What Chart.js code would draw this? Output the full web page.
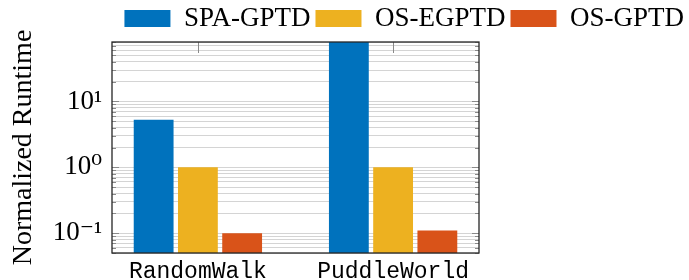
<!DOCTYPE html>
<html>
<head>
<meta charset="utf-8">
<script src="https://cdn.jsdelivr.net/npm/chart.js@4/dist/chart.umd.min.js"></script>
<style>
  html, body { margin: 0; padding: 0; background: #fff; }
  #wrap { width: 689px; height: 280px; }
</style>
</head>
<body>
<div id="wrap"><canvas id="runtimeChart" width="689" height="280"></canvas></div>
<script>
const categories = ['RandomWalk', 'PuddleWorld'];
const seriesNames = ['SPA-GPTD', 'OS-EGPTD', 'OS-GPTD'];
const spaGptd = [5.3, 100];
const osEgptd = [1.0, 1.0];
const osGptd = [0.1, 0.11];
const seriesColors = ['#0072BD', '#EDB120', '#D95319'];

// log axis: every 1..9 step gets a grid line, only decades get a label
const yGridValues = [
    0.05, 0.06, 0.07, 0.08, 0.09,
    0.1, 0.2, 0.3, 0.4, 0.5, 0.6, 0.7, 0.8, 0.9,
    1, 2, 3, 4, 5, 6, 7, 8, 9,
    10, 20, 30, 40, 50, 60, 70, 80
];
const yTickValues = [0.1, 1, 10];
const yTickLabels = ['10\u207B\u00B9', '10\u2070', '10\u00B9'];

const serif = "'Liberation Serif', 'DejaVu Serif', serif";
const mono = "'Liberation Mono', 'DejaVu Sans Mono', monospace";

const frameAndTicks = {
    id: 'frameAndTicks',
    beforeDatasetsDraw(chart) {
        const { ctx, chartArea: a, scales } = chart;
        ctx.save();
        ctx.strokeStyle = '#8a8a8a';
        ctx.lineWidth = 1;
        ctx.beginPath();
        yGridValues.forEach(v => {
            const y = Math.round(scales.y.getPixelForValue(v)) + 0.5;
            const len = yTickValues.includes(v) ? 7 : 4;
            ctx.moveTo(a.left, y);
            ctx.lineTo(a.left + len, y);
            ctx.moveTo(a.right, y);
            ctx.lineTo(a.right - len, y);
        });
        categories.forEach((c, i) => {
            const x = Math.round(scales.x.getPixelForValue(i)) + 0.5;
            ctx.moveTo(x, a.top);
            ctx.lineTo(x, a.top + 11);
            ctx.moveTo(x, a.bottom);
            ctx.lineTo(x, a.bottom - 11);
        });
        ctx.stroke();
        ctx.restore();
    },
    afterDatasetsDraw(chart) {
        const { ctx, chartArea: a } = chart;
        ctx.save();
        ctx.strokeStyle = '#262626';
        ctx.lineWidth = 1.3;
        ctx.strokeRect(a.left, a.top, a.right - a.left, a.bottom - a.top);
        ctx.restore();
    }
};

const datasets = [spaGptd, osEgptd, osGptd].map((vals, s) => ({
    label: seriesNames[s],
    data: vals.map((v, i) => ({ x: i, y: v })),
    backgroundColor: seriesColors[s],
    borderWidth: 0,
    categoryPercentage: 0.68,
    barPercentage: 0.9
}));

new Chart(document.getElementById('runtimeChart'), {
    type: 'bar',
    plugins: [frameAndTicks],
    data: { datasets },
    options: {
        responsive: false,
        animation: false,
        layout: { padding: 0 },
        plugins: {
            tooltip: { enabled: false },
            legend: {
                position: 'top',
                align: 'end',
                labels: {
                    boxWidth: 46,
                    boxHeight: 17,
                    padding: 5,
                    color: '#000',
                    font: { family: serif, size: 27 }
                }
            }
        },
        scales: {
            x: {
                type: 'linear',
                offset: false,
                bounds: 'data',
                min: -0.44,
                max: 1.44,
                afterBuildTicks: s => { s.ticks = categories.map((c, i) => ({ value: i })); },
                afterFit: s => { s.height = 27; },
                grid: { display: false, drawTicks: false, offset: false },
                border: { display: false },
                ticks: {
                    autoSkip: false,
                    maxRotation: 0,
                    padding: 5,
                    color: '#000',
                    font: { family: mono, size: 23 },
                    callback: v => categories[v] ?? ''
                }
            },
            y: {
                type: 'logarithmic',
                min: 0.05,
                max: 80,
                afterBuildTicks: s => { s.ticks = yGridValues.map(v => ({ value: v })); },
                afterFit: s => { s.width = 112; },
                grid: { color: '#d4d4d4', lineWidth: 1, drawTicks: false },
                border: { display: false },
                ticks: {
                    autoSkip: false,
                    padding: 10,
                    color: '#000',
                    font: { family: serif, size: 27 },
                    callback: v => {
                        const i = yTickValues.indexOf(v);
                        return i >= 0 ? yTickLabels[i] : '';
                    }
                },
                title: {
                    display: true,
                    text: 'Normalized Runtime',
                    color: '#000',
                    padding: { top: 7, bottom: 0 },
                    font: { family: serif, size: 28 }
                }
            },
            spacer: {
                position: 'right',
                display: true,
                afterFit: s => { s.width = 210; },
                grid: { display: false, drawTicks: false },
                border: { display: false },
                ticks: { display: false }
            }
        }
    }
});
</script>
</body>
</html>
